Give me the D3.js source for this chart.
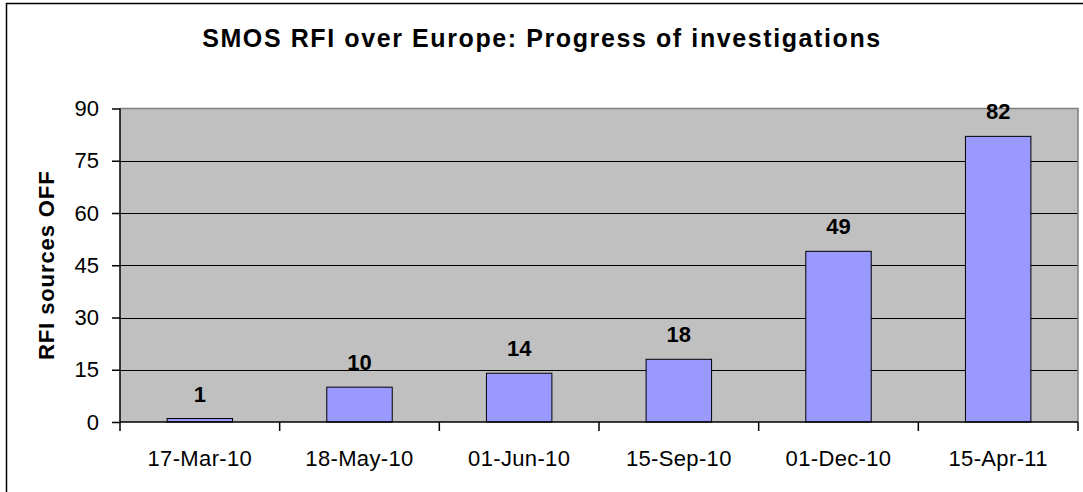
<!DOCTYPE html>
<html>
<head>
<meta charset="utf-8">
<script src="https://cdn.jsdelivr.net/npm/d3@7"></script>
<style>
  html, body { margin: 0; padding: 0; background: #fff; }
  svg { display: block; font-family: "Liberation Sans", Arial, sans-serif; }
</style>
</head>
<body>
<svg id="chart" width="1083" height="492"></svg>
<script>
const categories = ["17-Mar-10", "18-May-10", "01-Jun-10", "15-Sep-10", "01-Dec-10", "15-Apr-11"];
const values = [1, 10, 14, 18, 49, 82];
const yTicks = [0, 15, 30, 45, 60, 75, 90];
const titleText = "SMOS RFI over Europe: Progress of investigations";
const yTitle = "RFI sources OFF";

const svg = d3.select("#chart");
const plot = { left: 120, right: 1078, top: 108.5, bottom: 422 };

// outer chart border
svg.append("rect")
  .attr("x", 6.5).attr("y", 3.5)
  .attr("width", 1090).attr("height", 500)
  .attr("fill", "#fff").attr("stroke", "#000").attr("stroke-width", 1.5);

const x = d3.scaleBand().domain(categories).range([plot.left, plot.right]).paddingInner(0.59).paddingOuter(0.295);
const xOuter = d3.scaleBand().domain(categories).range([plot.left, plot.right]);
const y = d3.scaleLinear().domain([0, 90]).range([plot.bottom, plot.top]);

// plot background
svg.append("rect")
  .attr("x", plot.left).attr("y", plot.top)
  .attr("width", plot.right - plot.left).attr("height", plot.bottom - plot.top)
  .attr("fill", "#C0C0C0");

// gridlines
svg.append("g").selectAll("line").data(yTicks.filter(d => d > 0 && d < 90)).join("line")
  .attr("x1", plot.left).attr("x2", plot.right)
  .attr("y1", d => Math.round(y(d)) + 0.5).attr("y2", d => Math.round(y(d)) + 0.5)
  .attr("stroke", "#000").attr("stroke-width", 1);

// plot border top/right (gray)
svg.append("path")
  .attr("d", `M${plot.left},${plot.top}H${plot.right}V${plot.bottom}`)
  .attr("fill", "none").attr("stroke", "#808080").attr("stroke-width", 1.5);

// bars
svg.append("g").selectAll("rect").data(values).join("rect")
  .attr("x", (d, i) => x(categories[i]))
  .attr("width", x.bandwidth())
  .attr("y", d => y(d))
  .attr("height", d => y(0) - y(d))
  .attr("fill", "#9999FF").attr("stroke", "#000").attr("stroke-width", 1);

// data labels
svg.append("g").selectAll("text").data(values).join("text")
  .attr("x", (d, i) => x(categories[i]) + x.bandwidth() / 2)
  .attr("y", d => y(d) - 17)
  .attr("text-anchor", "middle")
  .attr("font-size", 22).attr("font-weight", "bold").attr("fill", "#000")
  .text(d => d);

// y axis
const yAxis = d3.axisLeft(y).tickValues(yTicks).tickSize(8).tickPadding(13);
const gy = svg.append("g").attr("transform", `translate(${plot.left},0)`).call(yAxis);
gy.select(".domain").attr("stroke", "#000").attr("stroke-width", 1.5).attr("d", `M0,${plot.top}V${plot.bottom}`);
gy.selectAll(".tick line").attr("stroke", "#000").attr("stroke-width", 1.5).attr("x2", -8);
gy.selectAll(".tick text").attr("font-size", 22).attr("fill", "#000")
  .attr("font-family", "Liberation Sans, Arial, sans-serif");

// x axis
const xAxis = d3.axisBottom(xOuter).tickSize(0).tickPadding(28);
const gx = svg.append("g").attr("transform", `translate(0,${plot.bottom})`).call(xAxis);
gx.select(".domain").attr("stroke", "#000").attr("stroke-width", 1.5).attr("d", `M${plot.left},0H${plot.right}`);
gx.selectAll(".tick text").attr("font-size", 22).attr("fill", "#000")
  .attr("letter-spacing", 0.35)
  .attr("font-family", "Liberation Sans, Arial, sans-serif");
// category boundary ticks
const bounds = categories.map(c => xOuter(c)).concat([plot.right]);
gx.append("g").selectAll("line").data(bounds).join("line")
  .attr("x1", d => d).attr("x2", d => d)
  .attr("y1", 0).attr("y2", 9)
  .attr("stroke", "#000").attr("stroke-width", 1.5);

// title
svg.append("text")
  .attr("x", 542).attr("y", 47)
  .attr("text-anchor", "middle")
  .attr("font-size", 25).attr("font-weight", "bold").attr("fill", "#000")
  .attr("letter-spacing", 1.6)
  .text(titleText);

// y axis title
svg.append("text")
  .attr("transform", `translate(53.5,${(plot.top + plot.bottom) / 2}) rotate(-90)`)
  .attr("text-anchor", "middle")
  .attr("font-size", 22).attr("font-weight", "bold").attr("fill", "#000")
  .attr("letter-spacing", 0.9)
  .text(yTitle);
</script>
</body>
</html>
